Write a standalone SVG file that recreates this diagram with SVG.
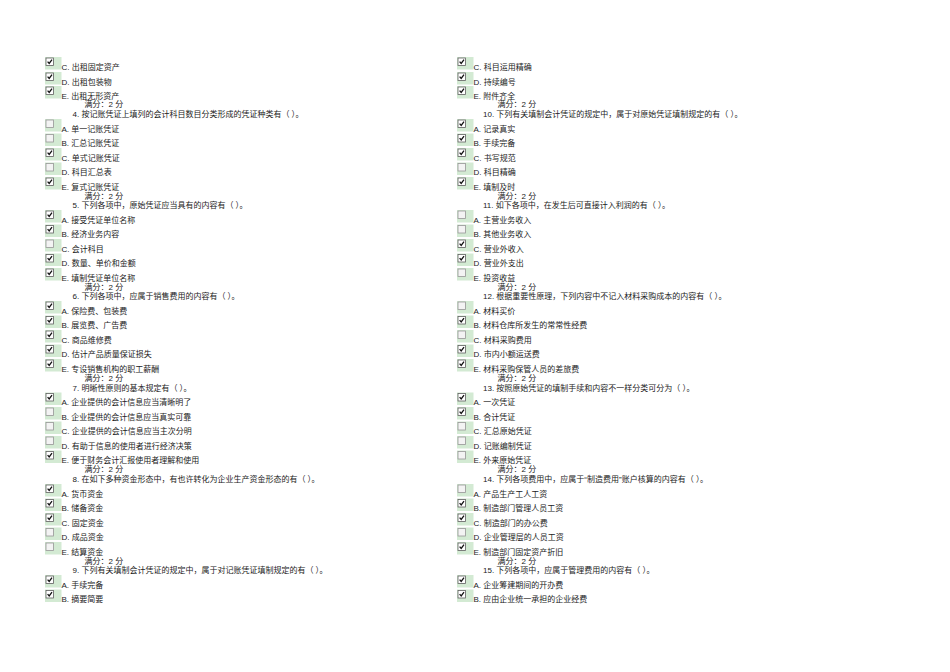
<svg xmlns="http://www.w3.org/2000/svg" xmlns:xlink="http://www.w3.org/1999/xlink" width="950" height="672" viewBox="0 0 950 672">
<style>
text{font-family:"Liberation Sans","Noto Sans CJK SC",sans-serif;font-size:8px;fill:#222}
</style>
<defs>
<g id="on"><rect x="0" y="-9" width="16.5" height="12.5" fill="#d3ead3"/><rect x="1" y="-8" width="7.5" height="7.5" fill="#fff" stroke="#5f5f5f" stroke-width="0.8"/><path d="M2.6,-4.4 L4.2,-2.6 L7,-6.3" fill="none" stroke="#111" stroke-width="1.3"/></g>
<g id="off"><rect x="0" y="-9" width="16.5" height="12.5" fill="#d3ead3"/><rect x="1" y="-8" width="7.5" height="7.5" fill="#f3f3f3" stroke="#969696" stroke-width="0.8"/></g>
</defs>
<rect width="950" height="672" fill="#fff"/>
<g id="left">
<g id="q3c" transform="translate(0,66)"><use href="#on" x="45"/><text x="61.5" y="3.5">C. 出租固定资产</text></g>
<g id="q3d" transform="translate(0,81)"><use href="#on" x="45"/><text x="61.5" y="3.5">D. 出租包装物</text></g>
<g id="q3e" transform="translate(0,95)"><use href="#on" x="45"/><text x="61.5" y="3.5">E. 出租无形资产</text></g>
<text x="84.5" y="107">满分：2 分</text>
<text id="q4" x="72.5" y="116.5">4. 按记账凭证上填列的会计科目数目分类形成的凭证种类有（ ）。</text>
<g id="q4a" transform="translate(0,128)"><use href="#off" x="45"/><text x="61.5" y="3.5">A. 单一记账凭证</text></g>
<g id="q4b" transform="translate(0,142.5)"><use href="#off" x="45"/><text x="61.5" y="3.5">B. 汇总记账凭证</text></g>
<g id="q4c" transform="translate(0,157)"><use href="#on" x="45"/><text x="61.5" y="3.5">C. 单式记账凭证</text></g>
<g id="q4d" transform="translate(0,171.5)"><use href="#off" x="45"/><text x="61.5" y="3.5">D. 科目汇总表</text></g>
<g id="q4e" transform="translate(0,186)"><use href="#on" x="45"/><text x="61.5" y="3.5">E. 复式记账凭证</text></g>
<text x="84.5" y="198.5">满分：2 分</text>
<text id="q5" x="72.5" y="208">5. 下列各项中，原始凭证应当具有的内容有（ ）。</text>
<g id="q5a" transform="translate(0,219)"><use href="#on" x="45"/><text x="61.5" y="3.5">A. 接受凭证单位名称</text></g>
<g id="q5b" transform="translate(0,233.5)"><use href="#on" x="45"/><text x="61.5" y="3.5">B. 经济业务内容</text></g>
<g id="q5c" transform="translate(0,248)"><use href="#off" x="45"/><text x="61.5" y="3.5">C. 会计科目</text></g>
<g id="q5d" transform="translate(0,262.5)"><use href="#on" x="45"/><text x="61.5" y="3.5">D. 数量、单价和金额</text></g>
<g id="q5e" transform="translate(0,277)"><use href="#on" x="45"/><text x="61.5" y="3.5">E. 填制凭证单位名称</text></g>
<text x="84.5" y="289.5">满分：2 分</text>
<text id="q6" x="72.5" y="299">6. 下列各项中，应属于销售费用的内容有（ ）。</text>
<g id="q6a" transform="translate(0,310)"><use href="#on" x="45"/><text x="61.5" y="3.5">A. 保险费、包装费</text></g>
<g id="q6b" transform="translate(0,324.5)"><use href="#on" x="45"/><text x="61.5" y="3.5">B. 展览费、广告费</text></g>
<g id="q6c" transform="translate(0,339)"><use href="#on" x="45"/><text x="61.5" y="3.5">C. 商品维修费</text></g>
<g id="q6d" transform="translate(0,353.5)"><use href="#on" x="45"/><text x="61.5" y="3.5">D. 估计产品质量保证损失</text></g>
<g id="q6e" transform="translate(0,368)"><use href="#on" x="45"/><text x="61.5" y="3.5">E. 专设销售机构的职工薪酬</text></g>
<text x="84.5" y="381">满分：2 分</text>
<text id="q7" x="72.5" y="390.5">7. 明晰性原则的基本规定有（ ）。</text>
<g id="q7a" transform="translate(0,401.5)"><use href="#on" x="45"/><text x="61.5" y="3.5">A. 企业提供的会计信息应当清晰明了</text></g>
<g id="q7b" transform="translate(0,416)"><use href="#off" x="45"/><text x="61.5" y="3.5">B. 企业提供的会计信息应当真实可靠</text></g>
<g id="q7c" transform="translate(0,430.5)"><use href="#off" x="45"/><text x="61.5" y="3.5">C. 企业提供的会计信息应当主次分明</text></g>
<g id="q7d" transform="translate(0,445)"><use href="#off" x="45"/><text x="61.5" y="3.5">D. 有助于信息的使用者进行经济决策</text></g>
<g id="q7e" transform="translate(0,459.5)"><use href="#on" x="45"/><text x="61.5" y="3.5">E. 便于财务会计汇报使用者理解和使用</text></g>
<text x="84.5" y="472">满分：2 分</text>
<text id="q8" x="72.5" y="481.5">8. 在如下多种资金形态中，有也许转化为企业生产资金形态的有（ ）。</text>
<g id="q8a" transform="translate(0,493)"><use href="#on" x="45"/><text x="61.5" y="3.5">A. 货币资金</text></g>
<g id="q8b" transform="translate(0,507.5)"><use href="#on" x="45"/><text x="61.5" y="3.5">B. 储备资金</text></g>
<g id="q8c" transform="translate(0,522)"><use href="#on" x="45"/><text x="61.5" y="3.5">C. 固定资金</text></g>
<g id="q8d" transform="translate(0,536.5)"><use href="#off" x="45"/><text x="61.5" y="3.5">D. 成品资金</text></g>
<g id="q8e" transform="translate(0,551)"><use href="#off" x="45"/><text x="61.5" y="3.5">E. 结算资金</text></g>
<text x="84.5" y="563.5">满分：2 分</text>
<text id="q9" x="72.5" y="573">9. 下列有关填制会计凭证的规定中，属于对记账凭证填制规定的有（ ）。</text>
<g id="q9a" transform="translate(0,584)"><use href="#on" x="45"/><text x="61.5" y="3.5">A. 手续完备</text></g>
<g id="q9b" transform="translate(0,598.5)"><use href="#on" x="45"/><text x="61.5" y="3.5">B. 摘要简要</text></g>
</g>
<g id="right">
<g id="q9c" transform="translate(0,66)"><use href="#on" x="457"/><text x="473.5" y="3.5">C. 科目运用精确</text></g>
<g id="q9d" transform="translate(0,81)"><use href="#on" x="457"/><text x="473.5" y="3.5">D. 持续编号</text></g>
<g id="q9e" transform="translate(0,95)"><use href="#on" x="457"/><text x="473.5" y="3.5">E. 附件齐全</text></g>
<text x="497.5" y="107">满分：2 分</text>
<text id="q10" x="483" y="116.5">10. 下列有关填制会计凭证的规定中，属于对原始凭证填制规定的有（ ）。</text>
<g id="q10a" transform="translate(0,128)"><use href="#on" x="457"/><text x="473.5" y="3.5">A. 记录真实</text></g>
<g id="q10b" transform="translate(0,142.5)"><use href="#on" x="457"/><text x="473.5" y="3.5">B. 手续完备</text></g>
<g id="q10c" transform="translate(0,157)"><use href="#on" x="457"/><text x="473.5" y="3.5">C. 书写规范</text></g>
<g id="q10d" transform="translate(0,171.5)"><use href="#off" x="457"/><text x="473.5" y="3.5">D. 科目精确</text></g>
<g id="q10e" transform="translate(0,186)"><use href="#on" x="457"/><text x="473.5" y="3.5">E. 填制及时</text></g>
<text x="497.5" y="198.5">满分：2 分</text>
<text id="q11" x="483" y="208">11. 如下各项中，在发生后可直接计入利润的有（ ）。</text>
<g id="q11a" transform="translate(0,219)"><use href="#off" x="457"/><text x="473.5" y="3.5">A. 主营业务收入</text></g>
<g id="q11b" transform="translate(0,233.5)"><use href="#off" x="457"/><text x="473.5" y="3.5">B. 其他业务收入</text></g>
<g id="q11c" transform="translate(0,248)"><use href="#on" x="457"/><text x="473.5" y="3.5">C. 营业外收入</text></g>
<g id="q11d" transform="translate(0,262.5)"><use href="#on" x="457"/><text x="473.5" y="3.5">D. 营业外支出</text></g>
<g id="q11e" transform="translate(0,277)"><use href="#off" x="457"/><text x="473.5" y="3.5">E. 投资收益</text></g>
<text x="497.5" y="289.5">满分：2 分</text>
<text id="q12" x="483" y="299">12. 根据重要性原理，下列内容中不记入材料采购成本的内容有（ ）。</text>
<g id="q12a" transform="translate(0,310)"><use href="#off" x="457"/><text x="473.5" y="3.5">A. 材料买价</text></g>
<g id="q12b" transform="translate(0,324.5)"><use href="#on" x="457"/><text x="473.5" y="3.5">B. 材料仓库所发生的常常性经费</text></g>
<g id="q12c" transform="translate(0,339)"><use href="#off" x="457"/><text x="473.5" y="3.5">C. 材料采购费用</text></g>
<g id="q12d" transform="translate(0,353.5)"><use href="#on" x="457"/><text x="473.5" y="3.5">D. 市内小额运送费</text></g>
<g id="q12e" transform="translate(0,368)"><use href="#on" x="457"/><text x="473.5" y="3.5">E. 材料采购保管人员的差旅费</text></g>
<text x="497.5" y="381">满分：2 分</text>
<text id="q13" x="483" y="390.5">13. 按照原始凭证的填制手续和内容不一样分类可分为（ ）。</text>
<g id="q13a" transform="translate(0,401.5)"><use href="#on" x="457"/><text x="473.5" y="3.5">A. 一次凭证</text></g>
<g id="q13b" transform="translate(0,416)"><use href="#on" x="457"/><text x="473.5" y="3.5">B. 合计凭证</text></g>
<g id="q13c" transform="translate(0,430.5)"><use href="#off" x="457"/><text x="473.5" y="3.5">C. 汇总原始凭证</text></g>
<g id="q13d" transform="translate(0,445)"><use href="#off" x="457"/><text x="473.5" y="3.5">D. 记账编制凭证</text></g>
<g id="q13e" transform="translate(0,459.5)"><use href="#off" x="457"/><text x="473.5" y="3.5">E. 外来原始凭证</text></g>
<text x="497.5" y="472">满分：2 分</text>
<text id="q14" x="483" y="481.5">14. 下列各项费用中，应属于“制造费用”账户核算的内容有（ ）。</text>
<g id="q14a" transform="translate(0,493)"><use href="#off" x="457"/><text x="473.5" y="3.5">A. 产品生产工人工资</text></g>
<g id="q14b" transform="translate(0,507.5)"><use href="#on" x="457"/><text x="473.5" y="3.5">B. 制造部门管理人员工资</text></g>
<g id="q14c" transform="translate(0,522)"><use href="#on" x="457"/><text x="473.5" y="3.5">C. 制造部门的办公费</text></g>
<g id="q14d" transform="translate(0,536.5)"><use href="#off" x="457"/><text x="473.5" y="3.5">D. 企业管理层的人员工资</text></g>
<g id="q14e" transform="translate(0,551)"><use href="#on" x="457"/><text x="473.5" y="3.5">E. 制造部门固定资产折旧</text></g>
<text x="497.5" y="563.5">满分：2 分</text>
<text id="q15" x="483" y="573">15. 下列各项中，应属于管理费用的内容有（ ）。</text>
<g id="q15a" transform="translate(0,584)"><use href="#on" x="457"/><text x="473.5" y="3.5">A. 企业筹建期间的开办费</text></g>
<g id="q15b" transform="translate(0,598.5)"><use href="#on" x="457"/><text x="473.5" y="3.5">B. 应由企业统一承担的企业经费</text></g>
</g>
</svg>
